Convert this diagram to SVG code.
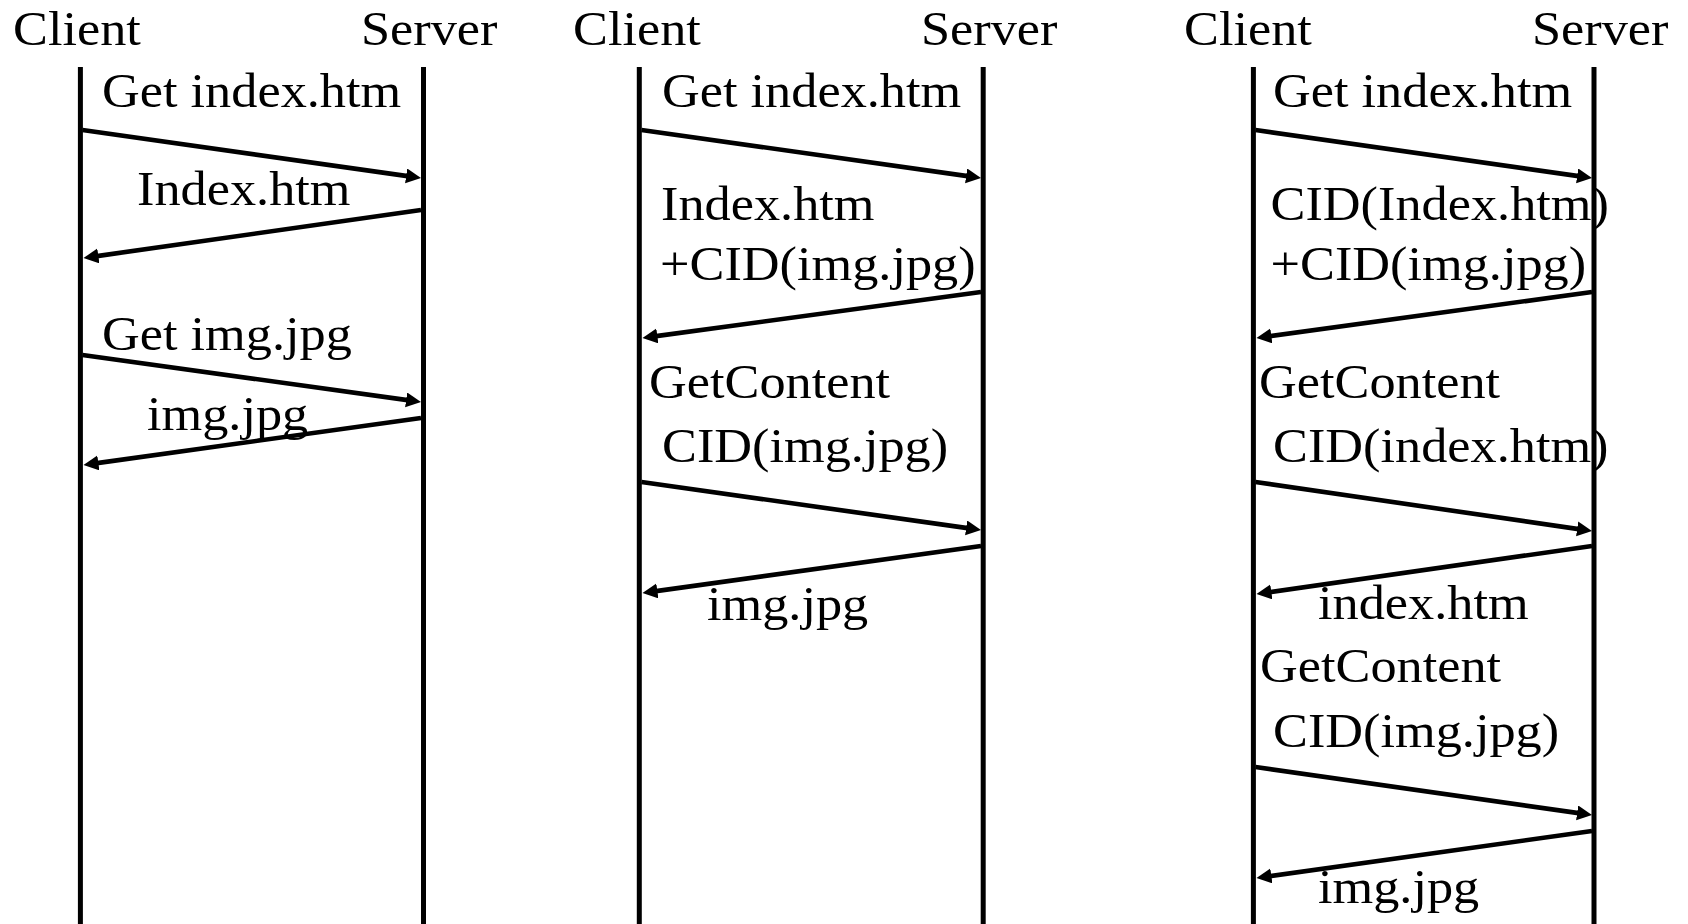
<svg xmlns="http://www.w3.org/2000/svg" width="1688" height="924" viewBox="0 0 1688 924">
<style>
text{font-family:"Liberation Serif","Times New Roman",serif;font-size:48px;fill:#000}
.life{stroke:#000;stroke-width:5;fill:none}
.msg{stroke:#000;stroke-width:4.6;fill:none;marker-end:url(#ah)}
</style>
<defs>
<marker id="ah" markerUnits="userSpaceOnUse" markerWidth="16" markerHeight="16" refX="5" refY="7.5" orient="auto">
<path d="M0,0 L15,7.5 L0,15 z" fill="#000"/>
</marker>
</defs>
<rect width="1688" height="924" fill="#fff"/>
<g id="panel1">
<g id="p1-client"><line class="life" x1="80.4" y1="67" x2="80.4" y2="924"/><text transform="matrix(1.09,0,0,1,13,45)">Client</text></g>
<g id="p1-server"><line class="life" x1="423.5" y1="67" x2="423.5" y2="924"/><text transform="matrix(1.09,0,0,1,361,45)">Server</text></g>
<g id="p1-labels">
<text transform="matrix(1.09,0,0,1,102,107)">Get index.htm</text>
<text transform="matrix(1.09,0,0,1,137,205)">Index.htm</text>
<text transform="matrix(1.09,0,0,1,102,350)">Get img.jpg</text>
<text transform="matrix(1.09,0,0,1,147,430)">img.jpg</text>
</g>
</g>
<g id="panel2">
<g id="p2-client"><line class="life" x1="639.3" y1="67" x2="639.3" y2="924"/><text transform="matrix(1.09,0,0,1,573,45)">Client</text></g>
<g id="p2-server"><line class="life" x1="983.2" y1="67" x2="983.2" y2="924"/><text transform="matrix(1.09,0,0,1,921,45)">Server</text></g>
<g id="p2-labels">
<text transform="matrix(1.09,0,0,1,662,107)">Get index.htm</text>
<text transform="matrix(1.09,0,0,1,661,220)">Index.htm</text>
<text transform="matrix(1.09,0,0,1,660,280)">+CID(img.jpg)</text>
<text transform="matrix(1.09,0,0,1,649,398)">GetContent</text>
<text transform="matrix(1.09,0,0,1,662,462)">CID(img.jpg)</text>
<text transform="matrix(1.09,0,0,1,707,620)">img.jpg</text>
</g>
</g>
<g id="panel3">
<g id="p3-client"><line class="life" x1="1253.4" y1="67" x2="1253.4" y2="924"/><text transform="matrix(1.09,0,0,1,1184,45)">Client</text></g>
<g id="p3-server"><line class="life" x1="1594" y1="67" x2="1594" y2="924"/><text transform="matrix(1.09,0,0,1,1532,45)">Server</text></g>
<g id="p3-labels">
<text transform="matrix(1.09,0,0,1,1273,107)">Get index.htm</text>
<text transform="matrix(1.09,0,0,1,1270.5,220)">CID(Index.htm)</text>
<text transform="matrix(1.09,0,0,1,1270.5,280)">+CID(img.jpg)</text>
<text transform="matrix(1.09,0,0,1,1259,398)">GetContent</text>
<text transform="matrix(1.09,0,0,1,1273,462)">CID(index.htm)</text>
<text transform="matrix(1.09,0,0,1,1318,619)">index.htm</text>
<text transform="matrix(1.09,0,0,1,1260,682)">GetContent</text>
<text transform="matrix(1.09,0,0,1,1273,747)">CID(img.jpg)</text>
<text transform="matrix(1.09,0,0,1,1318,903)">img.jpg</text>
</g>
</g>
<g id="connectors">
<line class="msg" x1="82.5" y1="130" x2="411.1" y2="176.6"/>
<line class="msg" x1="421" y1="210" x2="93.4" y2="256.6"/>
<line class="msg" x1="82.5" y1="355" x2="411.1" y2="400.6"/>
<line class="msg" x1="421" y1="418" x2="93.4" y2="463.6"/>
<line class="msg" x1="641.5" y1="130" x2="971.1" y2="176.6"/>
<line class="msg" x1="981" y1="292" x2="652.4" y2="336.6"/>
<line class="msg" x1="641.5" y1="482" x2="971.1" y2="528.6"/>
<line class="msg" x1="981" y1="546" x2="652.4" y2="591.6"/>
<line class="msg" x1="1255.5" y1="130" x2="1582.1" y2="176.6"/>
<line class="msg" x1="1592" y1="292" x2="1266.4" y2="336.6"/>
<line class="msg" x1="1255.5" y1="482" x2="1582.1" y2="529.6"/>
<line class="msg" x1="1592" y1="546" x2="1266.4" y2="592.6"/>
<line class="msg" x1="1255.5" y1="767" x2="1582.1" y2="813.6"/>
<line class="msg" x1="1592" y1="831" x2="1266.4" y2="876.6"/>
</g>
</svg>
